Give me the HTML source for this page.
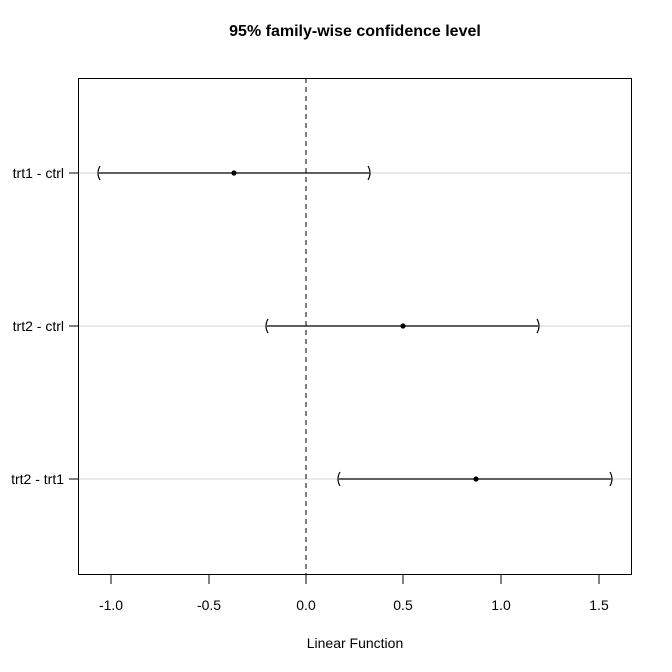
<!DOCTYPE html>
<html><head><style>body{margin:0;background:#fff}svg{display:block}</style></head><body>
<svg width="672" height="672" xmlns="http://www.w3.org/2000/svg" font-family="Liberation Sans, Arial, sans-serif">
<rect width="672" height="672" fill="#fff"/>
<text x="355" y="36" text-anchor="middle" font-size="16" font-weight="bold">95% family-wise confidence level</text>
<g stroke="#d3d3d3" stroke-width="1">
<line x1="78" y1="173" x2="631" y2="173"/>
<line x1="78" y1="326" x2="631" y2="326"/>
<line x1="78" y1="479" x2="631" y2="479"/>
</g>
<line x1="306" y1="78" x2="306" y2="574" stroke="#000" stroke-dasharray="5,4"/>
<g stroke="#000" stroke-width="1.2" fill="none">
<line x1="99" y1="173" x2="369" y2="173"/>
<line x1="267" y1="326" x2="538" y2="326"/>
<line x1="339" y1="479" x2="611" y2="479"/>
<path d="M100,166 Q96,173 100,180 M368,166 Q372,173 368,180"/>
<path d="M268,319 Q264,326 268,333 M537,319 Q541,326 537,333"/>
<path d="M340,472 Q336,479 340,486 M610,472 Q614,479 610,486"/>
</g>
<g fill="#000"><circle cx="234" cy="173" r="2.6"/><circle cx="403" cy="326" r="2.6"/><circle cx="476" cy="479" r="2.6"/></g>
<rect x="78.5" y="78.5" width="553" height="496" fill="none" stroke="#000"/>
<g stroke="#000">
<line x1="111" y1="574" x2="111" y2="584"/><line x1="209" y1="574" x2="209" y2="584"/><line x1="306" y1="574" x2="306" y2="584"/><line x1="403" y1="574" x2="403" y2="584"/><line x1="501" y1="574" x2="501" y2="584"/><line x1="599" y1="574" x2="599" y2="584"/>
<line x1="69" y1="173" x2="78" y2="173"/><line x1="69" y1="326" x2="78" y2="326"/><line x1="69" y1="479" x2="78" y2="479"/>
</g>
<g font-size="14" text-anchor="middle">
<text x="111" y="610">-1.0</text><text x="209" y="610">-0.5</text><text x="306" y="610">0.0</text><text x="403" y="610">0.5</text><text x="501" y="610">1.0</text><text x="599" y="610">1.5</text>
<text x="355" y="648">Linear Function</text>
</g>
<g font-size="14" text-anchor="end">
<text x="64" y="178">trt1 - ctrl</text><text x="64" y="331">trt2 - ctrl</text><text x="64" y="484">trt2 - trt1</text>
</g>
</svg>
</body></html>
